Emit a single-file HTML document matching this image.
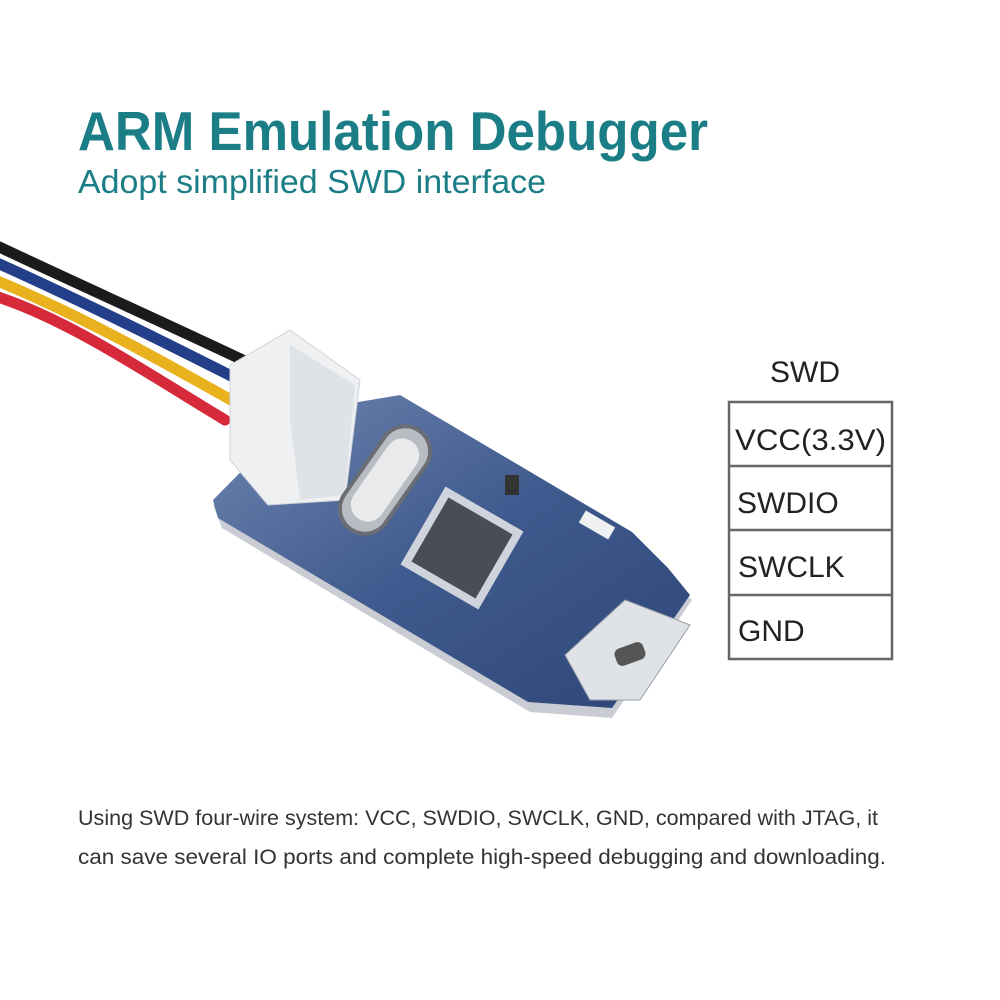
<!DOCTYPE html>
<html><head><meta charset="utf-8"><style>
html,body{margin:0;padding:0;background:#fff}
.w{position:relative;width:1000px;height:1000px;overflow:hidden;font-family:"Liberation Sans",sans-serif}
</style></head><body><div class="w">
<svg width="1000" height="1000" viewBox="0 0 1000 1000" style="position:absolute;left:0;top:0">
<defs>
<linearGradient id="pcb" x1="0" y1="0" x2="1" y2="1">
<stop offset="0" stop-color="#6f86b0"/><stop offset="0.5" stop-color="#3f5a8e"/><stop offset="1" stop-color="#2e4676"/>
</linearGradient>
</defs>
<text x="78" y="150" font-size="55" font-weight="bold" fill="#1b7e86" font-family="Liberation Sans,sans-serif" textLength="630" lengthAdjust="spacingAndGlyphs">ARM Emulation Debugger</text>
<text x="78" y="193" font-size="33" fill="#1b7e86" font-family="Liberation Sans,sans-serif" textLength="468" lengthAdjust="spacingAndGlyphs">Adopt simplified SWD interface</text>
<!-- wires -->
<g fill="none" stroke-width="11" stroke-linecap="round">
<path d="M-5,245 C80,285 180,330 268,372" stroke="#1b1b1d"/>
<path d="M-5,262 C80,300 170,345 255,388" stroke="#243f8a"/>
<path d="M-5,280 C80,315 160,360 240,405" stroke="#eab11e"/>
<path d="M-5,296 C70,320 150,375 225,420" stroke="#d62a3a"/>
</g>
<!-- board shadow edge -->
<polygon points="213,505 300,418 400,400 630,540 665,575 692,600 612,718 530,712 222,528" fill="#c9ccd2"/>
<polygon points="213,500 300,412 400,395 632,532 668,568 690,595 612,708 528,702 218,518" fill="url(#pcb)"/>
<!-- connector -->
<polygon points="230,365 290,330 360,380 345,500 268,505 230,460" fill="#eef0f2" stroke="#d0d4da"/>
<polygon points="290,345 355,385 345,495 300,500 290,420" fill="#dfe3e8"/>
<!-- crystal -->
<g transform="rotate(-55 385 480)"><rect x="325" y="455" width="120" height="50" rx="25" fill="#b9bcc2" stroke="#6a6d73" stroke-width="4"/><rect x="338" y="463" width="94" height="34" rx="17" fill="#e9eaec"/></g>
<!-- chip -->
<g transform="rotate(30 462 548)"><rect x="417" y="503" width="90" height="90" fill="#cfd4dc"/><rect x="425" y="511" width="74" height="74" fill="#4a4d55"/></g>
<!-- small parts -->
<g fill="#eef0f2">
<rect x="580" y="518" width="34" height="14" transform="rotate(30 597 525)"/>
<rect x="505" y="475" width="14" height="20" fill="#333"/>
</g>
<!-- usb -->
<polygon points="565,655 625,600 690,625 640,700 590,700" fill="#dfe2e6" stroke="#9aa0a8"/>
<rect x="615" y="645" width="30" height="18" rx="6" fill="#555" transform="rotate(-20 630 654)"/>
<!-- table -->
<text x="805" y="382" font-size="30" fill="#222" text-anchor="middle">SWD</text>
<g fill="none" stroke="#666" stroke-width="2.5">
<rect x="729" y="402" width="163" height="257"/>
<line x1="729" y1="466" x2="892" y2="466"/><line x1="729" y1="530" x2="892" y2="530"/><line x1="729" y1="595" x2="892" y2="595"/>
</g>
<g font-size="30" fill="#222">
<text x="735" y="450" textLength="151" lengthAdjust="spacingAndGlyphs">VCC(3.3V)</text>
<text x="737" y="513">SWDIO</text>
<text x="738" y="577">SWCLK</text>
<text x="738" y="641">GND</text>
</g>
<g font-size="21" fill="#333">
<text x="78" y="825" textLength="800" lengthAdjust="spacingAndGlyphs">Using SWD four-wire system: VCC, SWDIO, SWCLK, GND, compared with JTAG, it</text>
<text x="78" y="864" textLength="808" lengthAdjust="spacingAndGlyphs">can save several IO ports and complete high-speed debugging and downloading.</text>
</g>
</svg>
</div></body></html>
